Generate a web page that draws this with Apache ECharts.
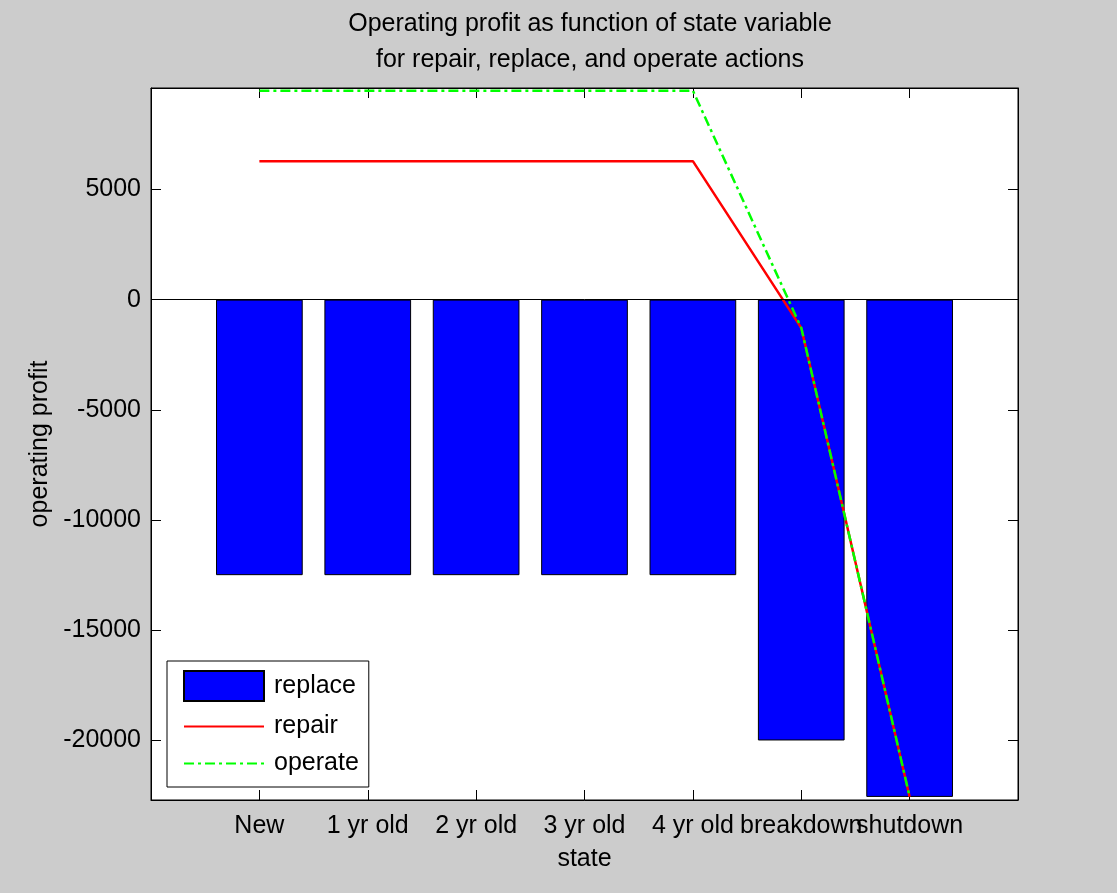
<!DOCTYPE html>
<html>
<head>
<meta charset="utf-8">
<script src="https://cdn.jsdelivr.net/npm/echarts@6/dist/echarts.min.js"></script>
<style>
html,body{margin:0;padding:0;background:#cccccc;}
#chart{width:1117px;height:893px;}
</style>
</head>
<body>
<div id="chart"></div>
<script>
// Categories (empty slots at both ends give the 0..8 x-range of the original)
const categories = ['', 'New', '1 yr old', '2 yr old', '3 yr old', '4 yr old', 'breakdown', 'shutdown', ''];
const replaceValues = [null, -12500, -12500, -12500, -12500, -12500, -20000, -22560, null];
const repairValues = [null, 6280, 6280, 6280, 6280, 6280, -1280, -22550, null];
const operateValues = [null, 9480, 9480, 9480, 9480, 9480, -1280, -22550, null];
const yTickValues = [-20000, -15000, -10000, -5000, 0, 5000];
const yMin = -22700;
const yMax = 9600;

const FONT = '"Liberation Sans", Arial, sans-serif';
const FS = 25;
const chart = echarts.init(document.getElementById('chart'), null, {renderer: 'canvas'});

const tickStyle = {show: true, inside: true, length: 10, lineStyle: {color: '#000', width: 1}};
const hideSymbol = {color: 'rgba(0,0,0,0)', opacity: 0, borderWidth: 0};

const option = {
  backgroundColor: '#cccccc',
  animation: false,
  title: {
    text: 'Operating profit as function of state variable\nfor repair, replace, and operate actions',
    left: 585, textAlign: 'center', top: 1,
    textStyle: {fontFamily: FONT, fontSize: FS, fontWeight: 'normal', color: '#000', lineHeight: 36}
  },
  grid: {
    left: 151, right: 99, top: 88, bottom: 93,
    outerBoundsMode: 'none', containLabel: false,
    show: true, backgroundColor: '#ffffff', borderColor: '#000', borderWidth: 1
  },
  legend: {
    orient: 'vertical', left: 167, top: 661,
    padding: [9, 10, 11, 16],
    itemWidth: 80, itemHeight: 30, itemGap: 12,
    backgroundColor: '#ffffff', borderColor: '#000', borderWidth: 1,
    textStyle: {fontFamily: FONT, fontSize: FS, color: '#000', padding: [0, 0, 0, 5]},
    data: [
      {name: 'replace', icon: 'rect'},
      {name: 'repair', itemStyle: hideSymbol},
      {name: 'operate', itemStyle: hideSymbol}
    ]
  },
  xAxis: [{
    type: 'category', data: categories, boundaryGap: false, position: 'bottom',
    name: 'state', nameLocation: 'middle', nameGap: 47,
    nameTextStyle: {fontFamily: FONT, fontSize: FS, color: '#000'},
    axisLine: {show: true, onZero: false, lineStyle: {color: '#000', width: 1}},
    axisTick: Object.assign({alignWithLabel: true}, tickStyle),
    axisLabel: {fontFamily: FONT, fontSize: FS, color: '#000', margin: 11, interval: 0, lineHeight: 30},
    splitLine: {show: false}
  }, {
    type: 'category', data: categories, boundaryGap: false, position: 'top',
    axisLine: {show: true, onZero: false, lineStyle: {color: '#000', width: 1}},
    axisTick: tickStyle, axisLabel: {show: false}, splitLine: {show: false}
  }],
  yAxis: [{
    type: 'value', min: yMin, max: yMax, position: 'left',
    name: 'operating profit', nameLocation: 'middle', nameGap: 97,
    nameTextStyle: {fontFamily: FONT, fontSize: FS, color: '#000'},
    axisLine: {show: true, onZero: false, lineStyle: {color: '#000', width: 1}},
    axisTick: Object.assign({customValues: yTickValues}, tickStyle),
    axisLabel: {customValues: yTickValues, fontFamily: FONT, fontSize: FS, color: '#000', margin: 10,
      formatter: function (v) { return String(v); }},
    splitLine: {show: false}
  }, {
    type: 'value', min: yMin, max: yMax, position: 'right',
    axisLine: {show: true, onZero: false, lineStyle: {color: '#000', width: 1}},
    axisTick: Object.assign({customValues: yTickValues}, tickStyle),
    axisLabel: {show: false}, splitLine: {show: false}
  }],
  series: [{
    name: 'replace', type: 'bar', data: replaceValues, barWidth: '80%',
    itemStyle: {color: '#0000ff', borderColor: '#000', borderWidth: 1},
    markLine: {
      silent: true, symbol: ['none', 'none'], label: {show: false},
      lineStyle: {color: '#000', width: 1, type: 'solid'},
      data: [{yAxis: 0}]
    }
  }, {
    name: 'repair', type: 'line', data: repairValues, symbol: 'none',
    lineStyle: {color: '#ff0000', width: 2.5, type: 'solid'},
    itemStyle: {color: '#ff0000'}
  }, {
    name: 'operate', type: 'line', data: operateValues, symbol: 'none',
    lineStyle: {color: '#00ff00', width: 2.5, type: [10, 4, 3, 4]},
    itemStyle: {color: '#00ff00'}
  }]
};
chart.setOption(option);
</script>
</body>
</html>
